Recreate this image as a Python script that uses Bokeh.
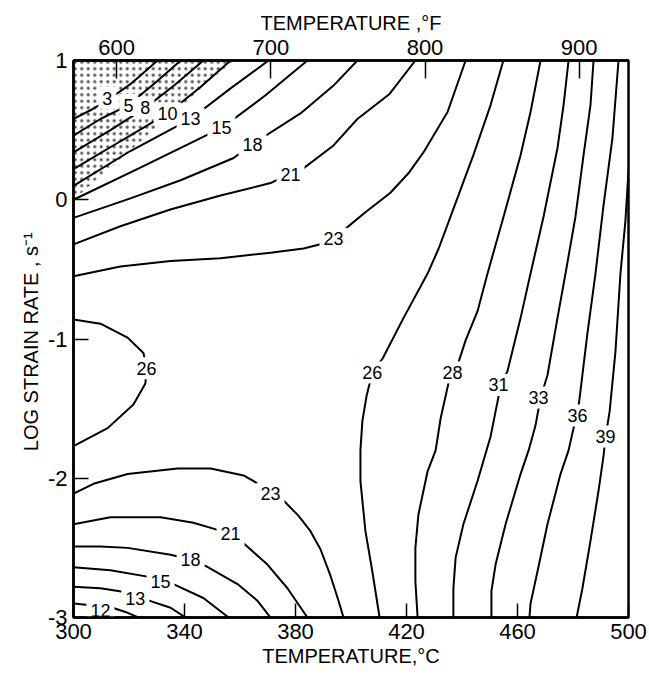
from bokeh.plotting import figure
from bokeh.models import (ColumnDataSource, LabelSet, LinearAxis, Range1d,
                          FixedTicker)
from bokeh.core.properties import value
from bokeh.embed import file_html
from bokeh.resources import INLINE

# Efficiency of power dissipation (%) iso-lines over temperature (deg C)
# and log strain rate (1/s).
eff_3_T = [300.0, 306.8, 312.6, 320.5, 330.3]
eff_3_r = [0.58, 0.65, 0.72, 0.83, 1.0]
eff_5_T = [300.0, 309.7, 319.8, 329.5, 338.6]
eff_5_r = [0.46, 0.58, 0.68, 0.84, 1.0]
eff_8_T = [300.0, 313.3, 325.9, 336.8, 346.8]
eff_8_r = [0.34, 0.50, 0.66, 0.83, 1.0]
eff_10_T = [300.0, 316.9, 333.9, 345.8, 356.6]
eff_10_r = [0.22, 0.42, 0.62, 0.81, 1.0]
eff_13a_T = [300.0, 320.5, 342.2, 356.6, 370.3]
eff_13a_r = [0.10, 0.35, 0.58, 0.80, 1.0]
eff_15a_T = [300.0, 324.1, 353.7, 369.2, 384.3]
eff_15a_r = [0.0, 0.23, 0.52, 0.75, 1.0]
eff_18a_T = [300.0, 320.5, 338.6, 357.7, 364.5, 381.8, 393.7, 402.3]
eff_18a_r = [-0.13, 0.01, 0.14, 0.30, 0.40, 0.62, 0.82, 1.0]
eff_21a_T = [300.0, 316.9, 334.9, 353.0, 371.0, 378.2, 382.5, 393.7, 402.3,
             413.9, 423.2]
eff_21a_r = [-0.32, -0.19, -0.07, 0.03, 0.12, 0.19, 0.22, 0.39, 0.58, 0.76,
             1.0]
eff_23a_T = [300.0, 316.9, 335.0, 353.0, 371.0, 382.9, 389.0, 397.3, 405.2,
             414.2, 420.7, 426.1, 434.8, 441.3]
eff_23a_r = [-0.55, -0.48, -0.44, -0.42, -0.38, -0.35, -0.32, -0.22, -0.09,
             0.05, 0.19, 0.34, 0.63, 1.0]
eff_26a_T = [300.0, 309.7, 319.5, 325.2, 326.3, 325.9, 321.6, 312.3, 300.0]
eff_26a_r = [-0.86, -0.89, -0.99, -1.10, -1.21, -1.32, -1.47, -1.64, -1.77]
eff_26b_T = [454.9, 450.3, 444.1, 435.9, 431.6, 427.6, 418.9, 411.4, 407.7,
             405.6, 404.1, 403.4, 403.4, 405.2, 407.7, 410.3]
eff_26b_r = [1.0, 0.68, 0.32, -0.12, -0.35, -0.53, -0.85, -1.14, -1.24,
             -1.41, -1.59, -1.80, -2.02, -2.38, -2.67, -3.0]
eff_28_T = [468.3, 464.7, 461.1, 455.0, 449.2, 445.6, 441.3, 438.7, 436.6,
            435.1, 432.3, 430.5, 427.6, 424.3, 423.2, 423.2, 424.0]
eff_28_r = [1.0, 0.63, 0.32, -0.12, -0.53, -0.80, -1.01, -1.17, -1.24,
            -1.32, -1.57, -1.80, -1.95, -2.26, -2.50, -2.74, -3.0]
eff_31_T = [478.4, 476.6, 474.4, 469.4, 464.7, 461.1, 456.4, 453.9, 452.1,
            450.3, 445.6, 440.5, 437.7, 436.9, 436.9]
eff_31_r = [1.0, 0.68, 0.37, -0.12, -0.53, -0.85, -1.23, -1.34, -1.52,
            -1.70, -2.02, -2.33, -2.57, -2.79, -3.0]
eff_33_T = [487.4, 486.3, 483.8, 480.9, 477.3, 474.4, 470.8, 468.3, 466.5,
            464.0, 461.1, 455.7, 452.1, 450.6, 450.6]
eff_33_r = [1.0, 0.68, 0.32, -0.12, -0.53, -0.85, -1.26, -1.42, -1.62,
            -1.80, -1.97, -2.33, -2.62, -2.81, -3.0]
eff_36_T = [496.4, 494.2, 491.0, 488.1, 485.2, 482.7, 481.6, 480.2, 478.4,
            475.5, 470.8, 467.2, 464.7, 464.3]
eff_36_r = [1.0, 0.44, -0.04, -0.53, -0.96, -1.37, -1.55, -1.64, -1.80,
            -1.97, -2.33, -2.67, -2.90, -3.0]
eff_39_T = [500.0, 498.9, 497.1, 495.3, 493.2, 491.7, 491.0, 489.2, 486.3,
            483.4, 481.3]
eff_39_r = [0.21, -0.15, -0.53, -1.09, -1.52, -1.71, -1.84, -2.09, -2.45,
            -2.79, -3.0]
eff_23b_T = [300.0, 307.2, 319.5, 337.5, 349.4, 361.3, 371.0, 375.7, 381.1,
             385.4, 389.0, 392.6, 395.5, 397.3]
eff_23b_r = [-2.11, -2.04, -1.97, -1.93, -1.93, -1.98, -2.09, -2.16, -2.27,
             -2.38, -2.51, -2.70, -2.88, -3.0]
eff_21b_T = [300.0, 313.3, 331.4, 343.2, 350.1, 356.6, 360.9, 369.9, 377.1,
             384.3]
eff_21b_r = [-2.33, -2.28, -2.28, -2.32, -2.36, -2.40, -2.46, -2.62, -2.79,
             -3.0]
eff_18b_T = [300.0, 309.7, 319.5, 335.0, 341.4, 347.6, 359.1, 366.3, 371.0]
eff_18b_r = [-2.49, -2.49, -2.50, -2.55, -2.58, -2.63, -2.76, -2.88, -3.0]
eff_15b_T = [300.0, 313.3, 327.7, 331.4, 336.0, 346.8, 355.9]
eff_15b_r = [-2.64, -2.66, -2.71, -2.74, -2.76, -2.86, -3.0]
eff_13b_T = [300.0, 309.7, 319.5, 322.3, 325.9, 335.0, 340.4]
eff_13b_r = [-2.78, -2.79, -2.82, -2.86, -2.87, -2.93, -3.0]
eff_12_T = [300.0, 305.4, 309.7, 314.1, 318.7, 323.4]
eff_12_r = [-2.90, -2.91, -2.92, -2.93, -2.96, -3.0]

# Flow instability domain (stippled)
unstable_T = [300.0, 357.7, 300.0]
unstable_r = [1.0, 1.0, 0.0]

# Contour value labels
label_text = ["3", "5", "8", "10", "13", "15", "18", "21", "23", "26", "26",
              "28", "31", "33", "36", "39", "23", "21", "18", "15", "13", "12"]
label_T = [312.2, 319.8, 325.9, 333.9, 342.2, 353.3, 364.5, 378.2, 393.7,
           326.3, 407.7, 436.6, 453.2, 467.6, 481.6, 491.7, 371.0, 356.6,
           342.2, 331.4, 322.3, 309.7]
label_r = [0.73, 0.68, 0.66, 0.62, 0.58, 0.52, 0.40, 0.18, -0.28, -1.21,
           -1.24, -1.24, -1.33, -1.42, -1.55, -1.70, -2.11, -2.40, -2.58,
           -2.74, -2.86, -2.95]

# Axis ticks
temp_c_ticks = [300, 340, 380, 420, 460, 500]
temp_f_ticks = [600, 700, 800, 900]
rate_ticks = [-3, -2, -1, 0, 1]

lines_T = [eff_3_T, eff_5_T, eff_8_T, eff_10_T, eff_13a_T, eff_15a_T,
           eff_18a_T, eff_21a_T, eff_23a_T, eff_26a_T, eff_26b_T, eff_28_T,
           eff_31_T, eff_33_T, eff_36_T, eff_39_T, eff_23b_T, eff_21b_T,
           eff_18b_T, eff_15b_T, eff_13b_T, eff_12_T]
lines_r = [eff_3_r, eff_5_r, eff_8_r, eff_10_r, eff_13a_r, eff_15a_r,
           eff_18a_r, eff_21a_r, eff_23a_r, eff_26a_r, eff_26b_r, eff_28_r,
           eff_31_r, eff_33_r, eff_36_r, eff_39_r, eff_23b_r, eff_21b_r,
           eff_18b_r, eff_15b_r, eff_13b_r, eff_12_r]

FONT = "Liberation Sans"

p = figure(width=649, height=674, x_range=Range1d(300, 500),
           y_range=Range1d(-3, 1), output_backend="svg",
           toolbar_location=None, x_axis_location=None, y_axis_location=None,
           min_border_left=73, min_border_right=21, min_border_top=60,
           min_border_bottom=57)
p.extra_x_ranges = {"F": Range1d((300 * 9 / 5) + 32, (500 * 9 / 5) + 32)}
p.xgrid.visible = False
p.ygrid.visible = False
p.outline_line_color = "black"
p.outline_line_width = 2.5
p.background_fill_color = "white"
p.border_fill_color = "white"


def style_axis(ax, tick_len):
    ax.axis_line_color = "black"
    ax.axis_line_width = 2.5
    ax.major_tick_in = tick_len
    ax.major_tick_out = 0
    ax.major_tick_line_width = 1.5
    ax.minor_tick_line_color = None
    ax.major_label_text_font = FONT
    ax.major_label_text_font_size = "22px"
    ax.major_label_text_color = "black"
    ax.axis_label_text_font = FONT
    ax.axis_label_text_font_size = "20px"
    ax.axis_label_text_font_style = "normal"
    ax.axis_label_text_color = "black"
    ax.major_label_standoff = 6
    ax.axis_label_standoff = 3


xb = LinearAxis(ticker=FixedTicker(ticks=temp_c_ticks),
                axis_label="TEMPERATURE,°C")
style_axis(xb, 14)
p.add_layout(xb, "below")

xt = LinearAxis(x_range_name="F", ticker=FixedTicker(ticks=temp_f_ticks),
                axis_label="TEMPERATURE ,°F")
style_axis(xt, 18)
p.add_layout(xt, "above")

yl = LinearAxis(ticker=FixedTicker(ticks=rate_ticks),
                axis_label="LOG  STRAIN RATE , s⁻¹",
                major_label_overrides={t: str(t) for t in rate_ticks})
style_axis(yl, 15)
yl.major_label_orientation = "horizontal"
p.add_layout(yl, "left")

# stippled instability domain
p.patch(unstable_T, unstable_r, fill_alpha=0, line_alpha=0,
        hatch_pattern="dot", hatch_scale=6.5, hatch_weight=3,
        hatch_color="#555555", hatch_alpha=1.0)

p.multi_line(xs=lines_T, ys=lines_r, line_color="black", line_width=2)

# white gaps in the iso-lines where the values are written
gap_w = [8 + 10 * len(t) for t in label_text]
p.rect(x=label_T, y=label_r, width=gap_w, height=22, width_units="screen",
       height_units="screen", fill_color="white", line_color=None)

labels = LabelSet(source=ColumnDataSource(dict(x=label_T, y=label_r,
                                               t=label_text)),
                  x="x", y="y", text="t", text_align="center",
                  text_baseline="middle", text_font=value(FONT),
                  text_font_size="18px", text_color="black")
p.add_layout(labels)

open("out.html", "w").write(file_html(p, INLINE))
